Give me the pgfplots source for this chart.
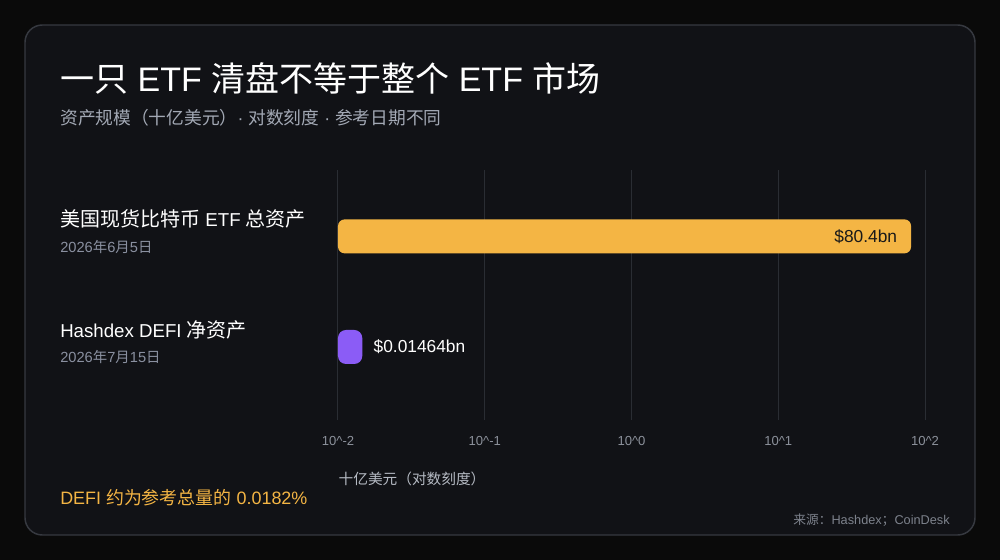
\documentclass[border=0pt]{standalone}
\usepackage{fontspec}
\setmainfont{Liberation Sans}
\newfontfamily\cjk{Noto Sans CJK SC}
\usepackage{pgfplots}
\pgfplotsset{compat=1.18}
\definecolor{outerbg}{HTML}{0A0A0A}
\definecolor{cardbg}{HTML}{111216}
\definecolor{cardborder}{HTML}{363940}
\definecolor{gridc}{HTML}{2A2D33}
\definecolor{orangebar}{HTML}{F4B544}
\definecolor{purplebar}{HTML}{8B5CF6}
\definecolor{subgray}{HTML}{A3A9B5}
\definecolor{dategray}{HTML}{8A90A0}
\definecolor{tickgray}{HTML}{8C919B}
\definecolor{labelgray}{HTML}{B5BAC3}
\definecolor{srcgray}{HTML}{7D828C}
\begin{document}
\begin{tikzpicture}
\fill[outerbg] (0,0) rectangle (750pt,-420pt);
\draw[cardborder, line width=1.1pt, fill=cardbg, rounded corners=13pt] (18.75pt,-18.75pt) rectangle (731.25pt,-401.25pt);
\node[anchor=base west, inner sep=0, text=white, font=\fontsize{25.5}{30}\selectfont] at (45pt,-69pt) {{\cjk 一只} ETF {\cjk 清盘不等于整个} ETF {\cjk 市场}};
\node[anchor=base west, inner sep=0, text=subgray, font=\fontsize{13.3}{15}\selectfont] at (45pt,-93pt) {{\cjk 资产规模（十亿美元）}· {\cjk 对数刻度} · {\cjk 参考日期不同}};
\node[anchor=base west, inner sep=0, text=white, font=\fontsize{14}{16}\selectfont] at (45pt,-170pt) {{\cjk\fontsize{15}{17}\selectfont 美国现货比特币} ETF {\cjk\fontsize{15}{17}\selectfont 总资产}};
\node[anchor=base west, inner sep=0, text=dategray, font=\fontsize{11}{13}\selectfont] at (45pt,-189.5pt) {2026{\cjk\fontsize{10.8}{13}\selectfont 年}6{\cjk\fontsize{10.8}{13}\selectfont 月}5{\cjk\fontsize{10.8}{13}\selectfont 日}};
\node[anchor=base west, inner sep=0, text=white, font=\fontsize{14}{16}\selectfont] at (45pt,-253pt) {Hashdex DEFI {\cjk\fontsize{15}{17}\selectfont 净资产}};
\node[anchor=base west, inner sep=0, text=dategray, font=\fontsize{11}{13}\selectfont] at (45pt,-272pt) {2026{\cjk\fontsize{10.8}{13}\selectfont 年}7{\cjk\fontsize{10.8}{13}\selectfont 月}15{\cjk\fontsize{10.8}{13}\selectfont 日}};
\node[anchor=base west, inner sep=0, text=orangebar, font=\fontsize{13.45}{16}\selectfont] at (45pt,-378.5pt) {DEFI {\cjk 约为参考总量的} 0.0182\%};
\node[anchor=base east, inner sep=0, text=srcgray, font=\fontsize{9.55}{11}\selectfont] at (712.5pt,-393pt) {{\cjk 来源：}Hashdex{\cjk ；}CoinDesk};
\begin{axis}[
  at={(253.5pt,-315pt)}, anchor=south west,
  scale only axis, width=440.25pt, height=187.5pt,
  xmode=log, xmin=0.01, xmax=100, ymin=-0.66, ymax=1.6,
  log origin=infty, clip=false,
  axis line style={draw=none}, tick style={draw=none},
  xmajorgrids, grid style={gridc, line width=0.75pt},
  ytick=\empty,
  xtick={0.01,0.1,1,10,100},
  xticklabels={10\textasciicircum-2,10\textasciicircum-1,10\textasciicircum0,10\textasciicircum1,10\textasciicircum2},
  xticklabel style={text=tickgray, font=\fontsize{9.8}{11}\selectfont, yshift=-8.5pt},
  /pgf/number format/assume math mode=true,
  xlabel={\cjk 十亿美元（对数刻度）},
  xlabel style={text=labelgray, font=\fontsize{11}{13}\selectfont, anchor=base west, at={(axis description cs:0,0)}, yshift=-48pt, xshift=-3pt},
  bar shift=0pt, bar width=25.5pt,
]
\addplot[xbar, fill=orangebar, draw=none, rounded corners=5pt,
  nodes near coords={\$80.4bn},
  every node near coord/.append style={anchor=east, xshift=-7pt, text=black!90, font=\fontsize{13}{15}\selectfont}]
  coordinates {(80.4,1)};
\addplot[xbar, fill=purplebar, draw=none, rounded corners=6pt,
  nodes near coords={\$0.01464bn},
  every node near coord/.append style={anchor=west, xshift=5pt, text=white, font=\fontsize{13}{15}\selectfont}]
  coordinates {(0.01464,0)};
\end{axis}
\end{tikzpicture}
\end{document}
